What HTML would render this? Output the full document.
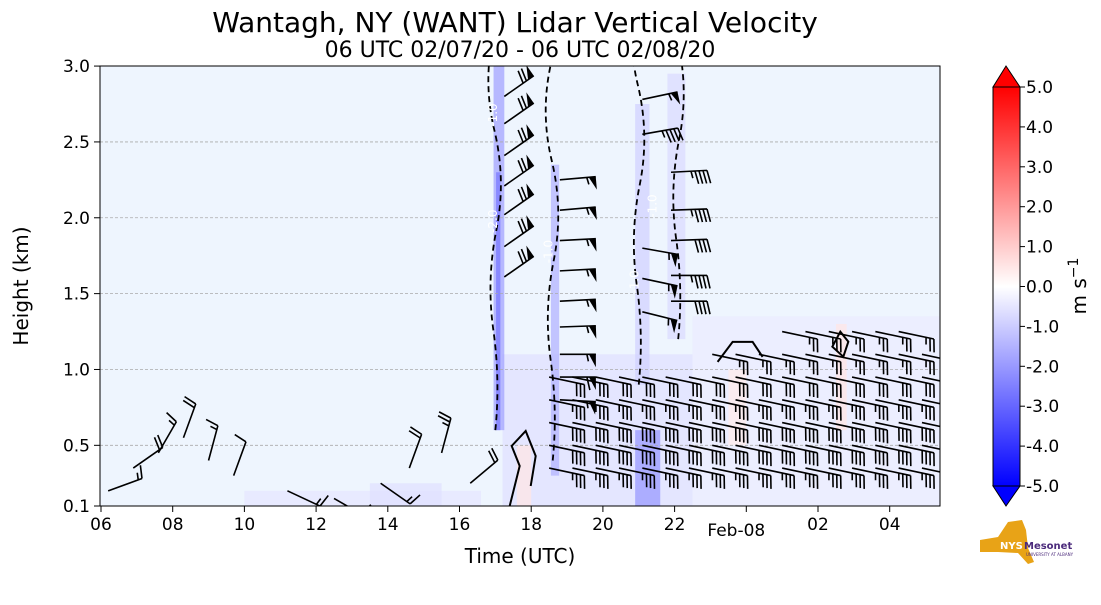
<!DOCTYPE html>
<html><head><meta charset="utf-8"><style>
body{margin:0;background:#fff;width:1101px;height:600px;overflow:hidden;font-family:"Liberation Sans","DejaVu Sans",sans-serif}
svg text{font-family:"DejaVu Sans","Liberation Sans",sans-serif}
</style></head><body>
<svg id="chart" width="1101" height="600" xmlns="http://www.w3.org/2000/svg">
<defs>
<linearGradient id="cbg" x1="0" y1="1" x2="0" y2="0">
<stop offset="0" stop-color="#0000ff"/><stop offset="0.5" stop-color="#ffffff"/><stop offset="1" stop-color="#ff0000"/>
</linearGradient>
<clipPath id="pc"><rect x="100" y="66" width="840" height="440"/></clipPath>
</defs>
<text x="515" y="32" font-size="28" text-anchor="middle">Wantagh, NY (WANT) Lidar Vertical Velocity</text>
<text x="520" y="57" font-size="22" text-anchor="middle">06 UTC 02/07/20 - 06 UTC 02/08/20</text>
<rect x="100" y="66" width="840" height="440" fill="#eef5fe"/>
<g id="shade" clip-path="url(#pc)"></g>
<g id="grid"></g>
<g id="contours" clip-path="url(#pc)"></g>
<g id="barbs" clip-path="url(#pc)"></g>
<rect x="100" y="66" width="840" height="440" fill="none" stroke="#000" stroke-width="1"/>
<g id="xaxis"></g>
<g id="yaxis"></g>
<text x="520" y="563" font-size="20" text-anchor="middle">Time (UTC)</text>
<text x="28" y="286" font-size="20" text-anchor="middle" transform="rotate(-90 28 286)">Height (km)</text>
<g id="cbar">
<polygon points="993,87 1006,66 1020,87" fill="#ff0000" stroke="#000" stroke-width="1"/>
<polygon points="993,486 1006,506 1020,486" fill="#0000ff" stroke="#000" stroke-width="1"/>
<rect x="993" y="87" width="27" height="399" fill="url(#cbg)" stroke="#000" stroke-width="1"/>
</g>
<text x="1086" y="286" font-size="20" text-anchor="middle" transform="rotate(-90 1086 286)">m s<tspan dy="-8" font-size="14">−1</tspan></text>
<g>
<polygon points="980,540 998,537 1008,522 1022,520 1026,530 1028,548 1034,562 1028,564 1018,553 998,552 980,552" fill="#e8a317"/>
<text x="1000" y="549" font-size="10" font-weight="bold" fill="#fff">NYS</text>
<text x="1024" y="549" font-size="10" font-weight="bold" fill="#4b2a7b">Mesonet</text>
<text x="1026" y="556" font-size="4" fill="#4b2a7b">UNIVERSITY AT ALBANY</text>
</g>
</svg>
<script>
const NS="http://www.w3.org/2000/svg";
const xTickHours=[6,8,10,12,14,16,18,20,22,24,26,28];
const xTickLabels=["06","08","10","12","14","16","18","20","22","Feb-08","02","04"];
const yTicks=[0.1,0.5,1.0,1.5,2.0,2.5,3.0];
const yTickLabels=["0.1","0.5","1.0","1.5","2.0","2.5","3.0"];
const cbTicks=[5,4,3,2,1,0,-1,-2,-3,-4,-5];
const cbTickLabels=["5.0","4.0","3.0","2.0","1.0","0.0","-1.0","-2.0","-3.0","-4.0","-5.0"];

// shading regions
const shadeT0=[10,17.2,22.5,16.95,17.02,18.55,20.9,21.8,20.9,17.6,26.5,23.5,13.5];
const shadeT1=[16.6,22.5,29.6,17.25,17.14,18.78,21.3,22.3,21.6,18.0,26.8,24.0,15.5];
const shadeH0=[0.1,0.1,0.1,0.6,0.6,0.3,0.9,1.2,0.1,0.1,0.6,0.5,0.1];
const shadeH1=[0.2,1.1,1.35,3.0,2.3,2.35,2.75,2.95,0.6,0.5,1.3,1.0,0.25];
const shadeV=[-0.5,-0.6,-0.4,-1.8,-2.6,-1.5,-0.9,-0.7,-2.0,0.5,0.5,0.4,-0.6];

// wind barbs
const barbT=[6.2,6.9,7.6,8.3,9.0,9.7,11.2,12.5,13.8,14.6,15.5,16.3,
 17.25,17.25,17.25,17.25,17.25,17.25,17.25,
 18.8,18.8,18.8,18.8,18.8,18.8,18.8,18.8,18.8,
 21.1,21.1,21.1,21.1,21.1,21.9,21.9,21.9,21.9,21.9];
const barbH=[0.2,0.35,0.45,0.55,0.4,0.3,0.2,0.15,0.25,0.35,0.45,0.25,
 2.8,2.62,2.41,2.21,2.02,1.81,1.61,
 2.25,2.05,1.85,1.65,1.45,1.28,1.1,0.95,0.8,
 2.78,2.55,1.8,1.6,1.38,2.3,2.05,1.85,1.62,1.45];
const barbS=[15,20,15,20,15,10,15,20,15,20,25,20,
 70,70,70,70,70,70,70,
 55,55,55,55,55,55,55,60,55,
 55,45,55,55,55,45,45,40,45,40];
const barbA=[20,35,60,70,75,70,-25,-30,-35,70,75,40,
 35,35,35,35,35,35,35,
 5,5,3,3,3,2,0,0,-3,
 12,10,-10,-12,-14,3,2,2,0,0];
const gridT=[18.5,19.15,19.8,20.45,21.1,21.75,22.4,23.05,23.7,24.35,25.0,25.65,26.3,26.95,27.6,28.25,28.9,29.5];
const gridH=[0.35,0.5,0.65,0.8,0.95,1.1,1.25];
const gridS=[35,40,40,35,30,25,25];
const gridTop=[1.0,1.0,1.0,1.0,1.0,1.0,1.0,1.1,1.1,1.1,1.25,1.25,1.25,1.25,1.25,1.25,1.1,1.0];

const X=h=>101+(h-6)*35.85;
const Y=k=>506-(k-0.1)*151.7;
const CBY=v=>286.5-v*39.9;

function el(tag,attrs,parent){const e=document.createElementNS(NS,tag);for(const k in attrs)e.setAttribute(k,attrs[k]);parent.appendChild(e);return e;}
function velColor(v){const t=Math.min(1,Math.abs(v)/5);const c=Math.round(255*(1-t));return v<0?`rgb(${c},${c},255)`:`rgb(255,${c},${c})`;}

const xa=document.getElementById('xaxis'),ya=document.getElementById('yaxis'),gr=document.getElementById('grid');
xTickHours.forEach((h,i)=>{
 const x=X(h);
 el('line',{x1:x,y1:506,x2:x,y2:512,stroke:'#000'},xa);
 const t=el('text',{x:i==9?x-10:x,y:i==9?536:530,'font-size':17,'text-anchor':'middle'},xa);
 t.textContent=xTickLabels[i];
 
 
});
yTicks.forEach((k,i)=>{
 const y=Y(k);
 el('line',{x1:94,y1:y,x2:100,y2:y,stroke:'#000'},ya);
 if(k>0.1&&k<3.0){const g=el('line',{x1:100,y1:y,x2:940,y2:y,stroke:'#aaa','stroke-dasharray':'3,2','stroke-width':0.8},gr);
 }
 const t=el('text',{x:90,y:y+6,'font-size':17,'text-anchor':'end'},ya);
 t.textContent=yTickLabels[i];
 
 
});
const cb=document.getElementById('cbar');
cbTicks.forEach((v,i)=>{
 const y=CBY(v);
 el('line',{x1:1020,y1:y,x2:1025,y2:y,stroke:'#000'},cb);
 const t=el('text',{x:1026,y:y+6,'font-size':17},cb);
 t.textContent=cbTickLabels[i];
 
 
});
const sh=document.getElementById('shade');
shadeT0.forEach((t0,i)=>{
 const r=el('rect',{x:X(t0),y:Y(shadeH1[i]),width:X(shadeT1[i])-X(t0),height:Y(shadeH0[i])-Y(shadeH1[i]),fill:velColor(shadeV[i]),opacity:0.75},sh);
 
 
});
const ct=document.getElementById('contours');
[[17.0,0.6,3.0],[18.6,0.4,2.3],[21.0,0.9,2.7],[22.1,1.2,2.9]].forEach(c=>{
 const p=el('path',{d:`M${X(c[0])},${Y(c[1])} q5,-50 -2,-100 t3,-100 t-2,-100 t0,-100`,fill:'none',stroke:'#000','stroke-width':1.8,'stroke-dasharray':'6,4'},ct);
 
});
[["-1.0",17.05,2.6],["-2.0",17.05,1.9],["-1.0",18.6,1.7],["-1.0",21.0,1.5],["-1.0",21.5,2.0]].forEach(l=>{
 const t=el('text',{x:X(l[1]),y:Y(l[2]),'font-size':12,fill:'#fff',transform:`rotate(-90 ${X(l[1])} ${Y(l[2])})`},ct);t.textContent=l[0];
 
});
const sc=el('path',{d:`M${X(17.4)},${Y(0.1)} l10,-40 l-8,-20 l14,-15 l10,25 l-5,30 M${X(26.4)},${Y(1.15)} l8,-15 l8,10 l-5,15 z M${X(23.2)},${Y(1.05)} l15,-20 l20,0 l10,15`,fill:'none',stroke:'#000','stroke-width':2},ct);


const bg=document.getElementById('barbs');
function barb(x,y,spd,a,side){
 const L=36,r=a*Math.PI/180,ux=Math.cos(r),uy=-Math.sin(r);
 const nx=uy*side,ny=-ux*side;
 const g=el('g',{},bg);
 
 
 let tx=x+ux*L,ty=y+uy*L;
 let d=`M${x},${y}L${tx},${ty}`;
 let s=Math.round(spd/5)*5,pos=0;
 while(s>=50){const bx=tx-ux*pos,by=ty-uy*pos;
  el('polygon',{points:`${bx},${by} ${bx-ux*7},${by-uy*7} ${bx+nx*13},${by+ny*13}`,fill:'#000'},g);pos+=9;s-=50;}
 while(s>=10){const bx=tx-ux*pos,by=ty-uy*pos;d+=`M${bx},${by}l${nx*13+ux*3},${ny*13+uy*3}`;pos+=4;s-=10;}
 if(s>=5){if(pos==0)pos=4;const bx=tx-ux*pos,by=ty-uy*pos;d+=`M${bx},${by}l${nx*7+ux*1.5},${ny*7+uy*1.5}`;}
 el('path',{d:d,stroke:'#000','stroke-width':1.6,fill:'none'},g);
}
barbT.forEach((t,i)=>{const side=(barbA[i]>30||i<12)?1:-1;barb(X(t),Y(barbH[i]),barbS[i],barbA[i],i>=19?-1:side);});
gridT.forEach((t,i)=>{
 gridH.forEach((h,j)=>{ if(h<=gridTop[i]) barb(X(t),Y(h),gridS[j],-12,-1); });
});
</script>
</body></html>
